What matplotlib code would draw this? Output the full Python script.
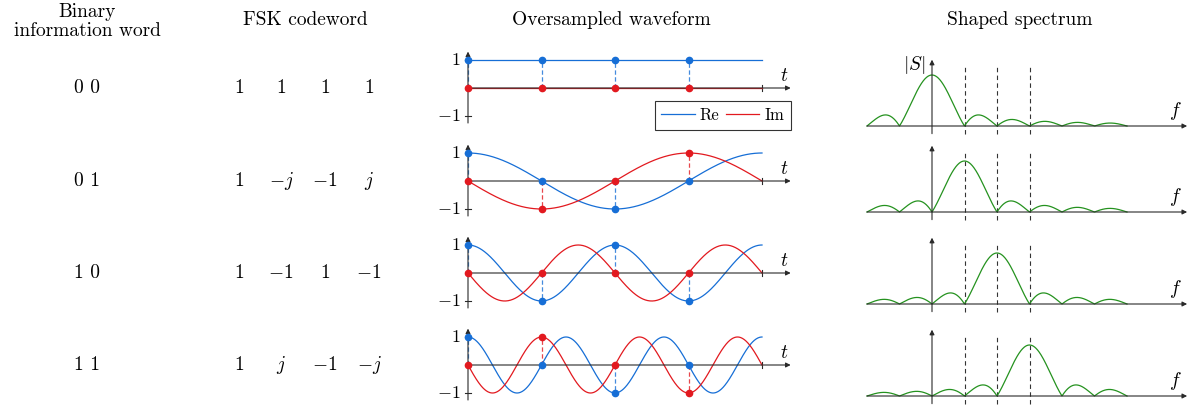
import numpy as np
import matplotlib
matplotlib.use('Agg')
from matplotlib import pyplot as plt
from matplotlib.lines import Line2D

plt.rcParams['mathtext.fontset'] = 'cm'
plt.rcParams['font.family'] = ['cmr10', 'DejaVu Serif']
plt.rcParams['axes.formatter.use_mathtext'] = True

# data
words = ['0 0', '0 1', '1 0', '1 1']
codewords = [[1, 1, 1, 1],
             [1, -1j, -1, 1j],
             [1, -1, 1, -1],
             [1, 1j, -1, -1j]]
code_labels = [['$1$', '$1$', '$1$', '$1$'],
               ['$1$', '$-j$', '$-1$', '$j$'],
               ['$1$', '$-1$', '$1$', '$-1$'],
               ['$1$', '$j$', '$-1$', '$-j$']]
tones = [0.0, -0.25, -0.5, -0.75]   # cycles per sample
bins = [0, 1, 2, 3]                 # spectrum peak position

BLUE = '#166ed6'
RED = '#e2191f'
GREEN = '#25921f'
AX = '#2a2a2a'

W, H = 1190, 409
fig = plt.figure(figsize=(W / 100, H / 100), dpi=100)


def px_axes(left, top, width, height):
    ax = fig.add_axes([left / W, 1 - (top + height) / H, width / W, height / H])
    ax.set_axis_off()
    return ax


def arrow(ax, x0, y0, x1, y1):
    ax.annotate('', xy=(x1, y1), xytext=(x0, y0),
                arrowprops=dict(arrowstyle='-|>', color=AX, lw=0.8,
                                shrinkA=0, shrinkB=0, mutation_scale=7))


# headers
fig.text(87 / W, 1 - 12 / H, 'Binary', ha='center', va='center', fontsize=14)
fig.text(87 / W, 1 - 31 / H, 'information word', ha='center', va='center', fontsize=14)
fig.text(305 / W, 1 - 20 / H, 'FSK codeword', ha='center', va='center', fontsize=14)
fig.text(611 / W, 1 - 20 / H, 'Oversampled waveform', ha='center', va='center', fontsize=14)
fig.text(1020 / W, 1 - 20 / H, 'Shaped spectrum', ha='center', va='center', fontsize=14)

row_y = [88, 181, 273, 365]
spec_base = [126, 212, 304, 396]
code_x = [239, 281, 325, 369]

sx, sy = 73.5, 28.0   # px per unit, waveform
fx, fy = 32.5, 51.0   # px per unit, spectrum

for i in range(4):
    y0 = row_y[i]
    fig.text(87 / W, 1 - y0 / H, words[i], ha='center', va='center', fontsize=14)
    for k in range(4):
        fig.text(code_x[k] / W, 1 - y0 / H, code_labels[i][k],
                 ha='center', va='center', fontsize=14)

    # waveform
    ax = px_axes(468 - 0.45 * sx, y0 - 1.6 * sy, 4.95 * sx, 3.2 * sy)
    ax.set_xlim(-0.45, 4.5)
    ax.set_ylim(-1.6, 1.6)
    t = np.linspace(0, 4, 500)
    z = np.exp(2j * np.pi * tones[i] * t)
    samples = np.array(codewords[i], dtype=complex)
    arrow(ax, 0, 0, 4.39, 0)
    arrow(ax, 0, -1.25, 0, 1.3)
    for k in range(4):
        v = samples[k]
        if abs(v.real) > 0.5:
            ax.plot([k, k], [0, v.real], ls=(0, (3.5, 2)), color=BLUE, lw=0.9, alpha=0.8)
        else:
            ax.plot([k, k], [0, v.imag], ls=(0, (3.5, 2)), color=RED, lw=0.9, alpha=0.8)
    ax.plot([4, 4], [-0.1, 0.1], color=AX, lw=0.8)
    for yy in (1, -1):
        ax.plot([-0.04, 0.04], [yy, yy], color=AX, lw=0.8)
    ax.text(-0.1, 1, '$1$', ha='right', va='center', fontsize=13)
    ax.text(-0.1, -1, '$-1$', ha='right', va='center', fontsize=13)
    ax.text(4.3, 0.12, '$t$', ha='center', va='bottom', fontsize=14)
    ax.plot(t, z.real, color=BLUE, lw=0.9)
    ax.plot(t, z.imag, color=RED, lw=0.9)
    kk = np.arange(4)
    ax.plot(kk, samples.real, 'o', color=BLUE, ms=4.5, zorder=5)
    ax.plot(kk, samples.imag, 'o', color=RED, ms=4.5, zorder=5)

    # spectrum
    b = spec_base[i]
    sp = px_axes(932 - 2.2 * fx, b - 1.4 * fy, 10.2 * fx, 1.7 * fy)
    sp.set_xlim(-2.2, 8.0)
    sp.set_ylim(-0.3, 1.4)
    for k in range(1, 4):
        sp.plot([k, k], [-0.15, 1.18], ls=(0, (4, 3)), color='#333333', lw=0.8)
    arrow(sp, -2, 0, 7.85, 0)
    arrow(sp, 0, -0.15, 0, 1.3)
    f = np.linspace(-2, 6, 800)
    sp.plot(f, np.abs(np.sinc(f - bins[i])), color=GREEN, lw=0.9)
    sp.text(7.5, 0.08, '$f$', ha='center', va='bottom', fontsize=14)
    if i == 0:
        sp.text(-0.55, 1.2, '$|S|$', ha='center', va='center', fontsize=14)

handles = [Line2D([], [], color=BLUE, lw=0.9), Line2D([], [], color=RED, lw=0.9)]
leg = fig.legend(handles, ['Re', 'Im'], loc='lower right', ncol=2,
                 bbox_to_anchor=(791 / W, 1 - 130 / H), fontsize=12,
                 frameon=True, fancybox=False, edgecolor='black',
                 borderaxespad=0, handlelength=2.0, handletextpad=0.3,
                 columnspacing=0.4, borderpad=0.4)
leg.get_frame().set_linewidth(0.8)

fig.savefig('out.png', dpi=100)
